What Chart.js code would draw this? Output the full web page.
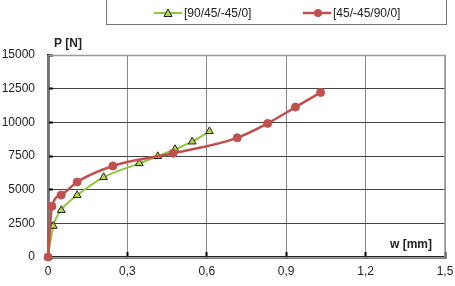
<!DOCTYPE html>
<html>
<head>
<meta charset="utf-8">
<script src="https://cdn.jsdelivr.net/npm/chart.js@4/dist/chart.umd.min.js"></script>
<style>
  body { margin: 0; background: #fff; font-family: "Liberation Sans", Arial, sans-serif; }
  #wrap { position: relative; width: 455px; height: 286px; overflow: hidden; }
  #legend {
    position: absolute; left: 106px; top: -12px; width: 341px; height: 37px;
    border: 1px solid #777; box-sizing: border-box;
  }
  .item { position: absolute; top: 16px; height: 16px; display: flex; align-items: center; font-size: 12px; color: #222; }
  .item svg { margin-right: 2px; }
</style>
</head>
<body>
<div id="wrap">
  <canvas id="chart" width="455" height="286"></canvas>
  <div id="legend"></div>
</div>
<script>
// load-deflection data
const seriesNames = ['[90/45/-45/0]', '[45/-45/90/0]'];

const wA = [0, 0.02, 0.05, 0.11, 0.21, 0.345, 0.415, 0.48, 0.545, 0.61];
const pA = [0, 2300, 3470, 4580, 5920, 6950, 7480, 8000, 8560, 9330];

const wB = [0, 0.015, 0.05, 0.11, 0.245, 0.473, 0.715, 0.83, 0.935, 1.03];
const pB = [0, 3760, 4600, 5570, 6760, 7700, 8850, 9920, 11130, 12220];

const xTickLabels = ['0', '0,3', '0,6', '0,9', '1,2', '1,5'];
const yTickLabels = ['0', '2500', '5000', '7500', '10000', '12500', '15000'];

const green = '#8dc63f';
const red = '#c0504d';

const toPoints = (xs, ys) => xs.map((x, i) => ({ x: x, y: ys[i] }));

// legend (html)
const legend = document.getElementById('legend');
const markers = [
  '<svg width="28" height="10"><line x1="0" y1="5" x2="28" y2="5" stroke="' + green + '" stroke-width="2"/>' +
    '<polygon points="14,1 18,8.5 10,8.5" fill="#b3d645" stroke="#222" stroke-width="1"/></svg>',
  '<svg width="28" height="10"><line x1="0" y1="5" x2="28" y2="5" stroke="' + red + '" stroke-width="2.5"/>' +
    '<circle cx="15" cy="5" r="4" fill="' + red + '"/></svg>'
];
const legendLeft = [47, 196];
seriesNames.forEach((name, i) => {
  const el = document.createElement('div');
  el.className = 'item';
  el.style.left = legendLeft[i] + 'px';
  el.innerHTML = markers[i] + '<span>' + name + '</span>';
  legend.appendChild(el);
});

const frame = {
  id: 'frame',
  beforeDatasetsDraw(chart) {
    const a = chart.chartArea;
    const ctx = chart.ctx;
    ctx.save();
    ctx.strokeStyle = '#999';
    ctx.lineWidth = 1.5;
    ctx.strokeRect(a.left, a.top + 0.5, a.right - a.left, a.bottom - a.top);
    ctx.restore();
  },
  afterDraw(chart) {
    const ctx = chart.ctx;
    const a = chart.chartArea;
    ctx.save();
    ctx.fillStyle = '#222';
    ctx.font = 'bold 12px "Liberation Sans", Arial, sans-serif';
    ctx.textBaseline = 'middle';
    ctx.textAlign = 'left';
    ctx.fillText('P [N]', a.left + 6, a.top - 11);
    ctx.textAlign = 'right';
    ctx.fillText('w [mm]', a.right - 13, a.bottom - 12);
    ctx.restore();
  }
};

const ctx = document.getElementById('chart').getContext('2d');
new Chart(ctx, {
  type: 'line',
  data: {
    datasets: [
      {
        label: seriesNames[0],
        data: toPoints(wA, pA),
        borderColor: green,
        borderWidth: 2,
        pointStyle: 'triangle',
        pointRadius: 4.5,
        pointBackgroundColor: '#b3d645',
        pointBorderColor: '#222',
        pointBorderWidth: 1,
        cubicInterpolationMode: 'monotone',
        clip: false,
        order: 1
      },
      {
        label: seriesNames[1],
        data: toPoints(wB, pB),
        borderColor: red,
        borderWidth: 2.5,
        pointStyle: 'circle',
        pointRadius: 4,
        pointBackgroundColor: red,
        pointBorderColor: red,
        pointBorderWidth: 1,
        cubicInterpolationMode: 'monotone',
        clip: false,
        order: 0
      }
    ]
  },
  options: {
    responsive: false,
    animation: false,
    layout: { padding: { top: 55, right: 10, left: 0, bottom: 0 } },
    plugins: { legend: { display: false }, tooltip: { enabled: false } },
    scales: {
      x: {
        type: 'linear',
        min: 0,
        max: 1.5,
        afterFit: (s) => { s.height = 29; s.paddingLeft = 0; s.paddingRight = 0; },
        afterBuildTicks: (s) => { s.ticks = [0, 0.3, 0.6, 0.9, 1.2, 1.5].map(v => ({ value: v })); },
        ticks: {
          callback: (v, i) => xTickLabels[i],
          color: '#222',
          font: { size: 12, family: '"Liberation Sans", Arial, sans-serif' },
          padding: 12,
          maxRotation: 0
        },
        grid: { color: '#888', lineWidth: 1, borderDash: [1.5, 1.5], tickLength: -5, tickColor: '#000', tickWidth: 2, tickBorderDash: [] },
        border: { display: true, color: '#000', width: 2.5 }
      },
      y: {
        min: 0,
        max: 15000,
        afterFit: (s) => { s.width = 48; s.paddingTop = 0; s.paddingBottom = 0; },
        ticks: {
          stepSize: 2500,
          callback: (v, i) => yTickLabels[i],
          color: '#222',
          font: { size: 12, family: '"Liberation Sans", Arial, sans-serif' },
          padding: 18
        },
        grid: { color: '#444', lineWidth: 1, borderDash: [1, 1.5], tickLength: -5, tickColor: '#000', tickWidth: 2, tickBorderDash: [] },
        border: { display: true, color: '#000', width: 2.5 }
      }
    }
  },
  plugins: [frame]
});
</script>
</body>
</html>
